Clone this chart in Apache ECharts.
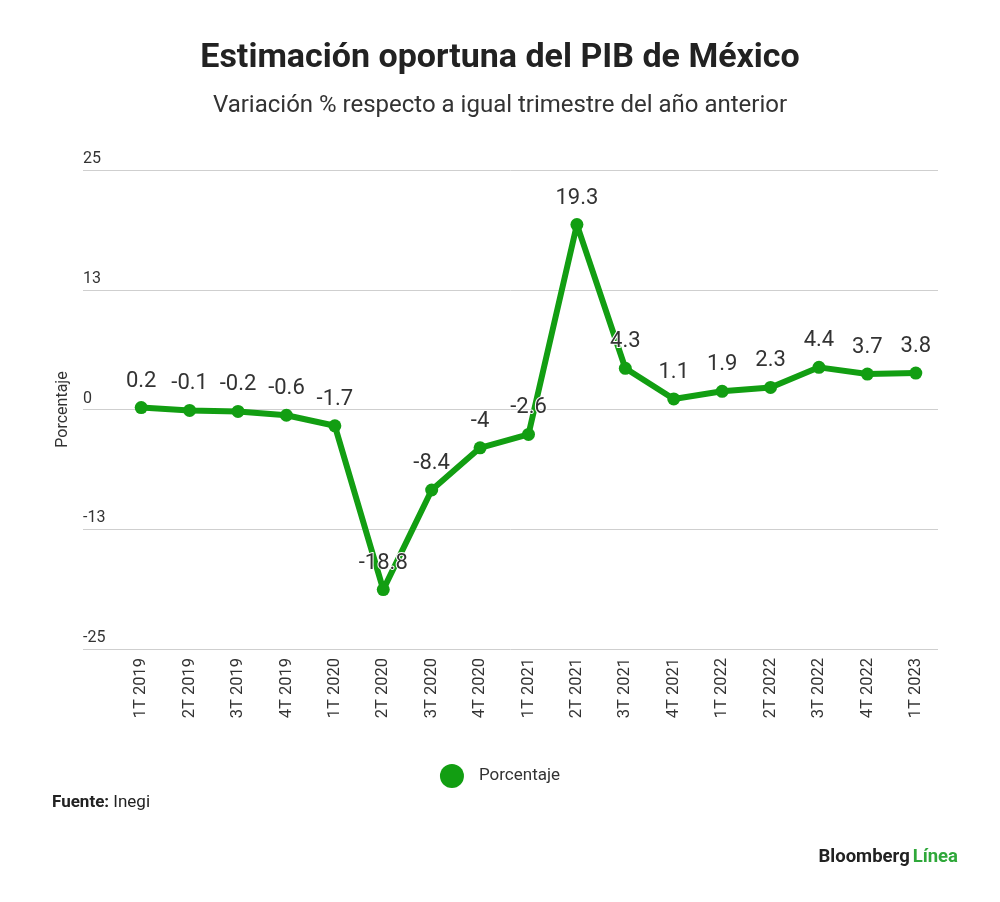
<!DOCTYPE html>
<html><head><meta charset="utf-8">
<script src="https://cdn.jsdelivr.net/npm/echarts@6/dist/echarts.min.js"></script>
<style>html,body{margin:0;padding:0;background:#fff}#c{width:1000px;height:902px}</style>
</head><body><div id="c"></div>
<script>
const categories = ['1T 2019','2T 2019','3T 2019','4T 2019','1T 2020','2T 2020','3T 2020','4T 2020','1T 2021','2T 2021','3T 2021','4T 2021','1T 2022','2T 2022','3T 2022','4T 2022','1T 2023'];
const porcentaje = [0.2,-0.1,-0.2,-0.6,-1.7,-18.8,-8.4,-4,-2.6,19.3,4.3,1.1,1.9,2.3,4.4,3.7,3.8];
const yMin = -25, yMax = 25, yInterval = 12.5;

const FONT = 'Roboto, "Noto Sans", sans-serif';
const green = '#129e12';
const chart = echarts.init(document.getElementById('c'));
const roundLabel = v => { const r = Math.round(Math.abs(v)); return v < 0 ? '-' + r : String(r); };

chart.setOption({
  backgroundColor: '#fff',
  textStyle: { fontFamily: FONT },
  title: [
    { text: 'Estimación oportuna del PIB de México', left: 'center', top: 36,
      textStyle: { fontFamily: FONT, fontSize: 34, fontWeight: 'bold', color: '#222' } },
    { text: 'Variación % respecto a igual trimestre del año anterior', left: 'center', top: 89,
      textStyle: { fontFamily: FONT, fontSize: 24, fontWeight: 'normal', color: '#333' } }
  ],
  legend: {
    data: [{ name: 'Porcentaje', icon: 'circle' }],
    left: 'center', top: 759, itemWidth: 24, itemHeight: 24,
    textStyle: { fontSize: 17, color: '#333', fontFamily: FONT, padding: [0, 0, 0, 10] }
  },
  grid: [
    { left: 83, right: 62, top: 170, bottom: 253, containLabel: false },
    { left: 117, right: 60, top: 170, bottom: 253, containLabel: false }
  ],
  xAxis: [
    { gridIndex: 0, type: 'category', data: categories, show: false },
    { gridIndex: 1, type: 'category', data: categories, boundaryGap: true,
      axisLine: { show: false }, axisTick: { show: false },
      axisLabel: { rotate: 90, margin: 9, fontSize: 16.5, color: '#333', fontFamily: FONT, interval: 0 } }
  ],
  yAxis: [
    { gridIndex: 0, type: 'value', min: yMin, max: yMax, interval: yInterval,
      name: 'Porcentaje', nameLocation: 'middle', nameGap: 12, nameRotate: 90,
      nameTextStyle: { fontSize: 16, color: '#333', fontFamily: FONT },
      axisLine: { show: false }, axisTick: { show: false },
      axisLabel: { inside: true, margin: 0, verticalAlign: 'bottom', padding: [0, 0, 3, 0],
        fontSize: 16, color: '#333', fontFamily: FONT, formatter: roundLabel },
      splitLine: { lineStyle: { color: '#cfcfcf', width: 1 } } },
    { gridIndex: 1, type: 'value', min: yMin, max: yMax, interval: yInterval, show: false,
      splitLine: { show: false } }
  ],
  series: [{
    name: 'Porcentaje', type: 'line', xAxisIndex: 1, yAxisIndex: 1,
    data: porcentaje,
    symbol: 'circle', symbolSize: 13,
    lineStyle: { color: green, width: 6 },
    itemStyle: { color: green },
    label: { show: true, position: 'top', distance: 9, fontSize: 22, color: '#333',
      fontFamily: FONT, textBorderColor: '#fff', textBorderWidth: 2 }
  }],
  graphic: [
    { type: 'text', left: 52, top: 794,
      style: { text: '{b|Fuente:} Inegi', fontSize: 17, fill: '#222', fontFamily: FONT,
        rich: { b: { fontWeight: 'bold', fontSize: 17, fill: '#222', fontFamily: FONT } } } },
    { type: 'text', right: 42, top: 848,
      style: { text: '{a|Bloomberg} {g|Línea}', fontFamily: FONT,
        rich: { a: { fontWeight: 'bold', fontSize: 18.5, fill: '#222', fontFamily: FONT },
                g: { fontWeight: 'bold', fontSize: 18.5, fill: '#2fa83a', fontFamily: FONT } } } }
  ]
});
</script></body></html>
